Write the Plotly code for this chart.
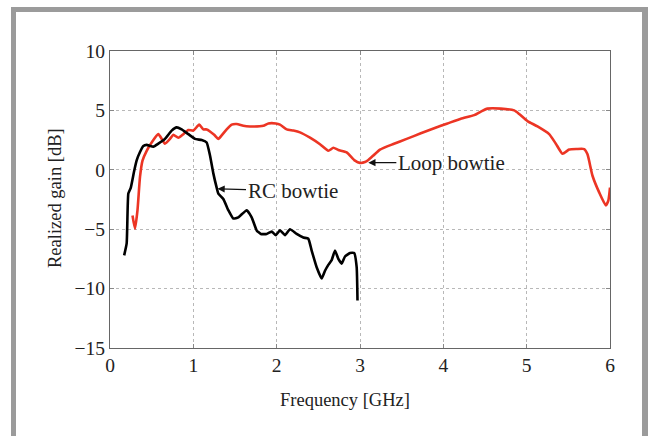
import plotly.graph_objects as go

# Realized gain of the two bowtie antennas versus frequency
freq_rc = [0.17, 0.20, 0.22, 0.25, 0.29, 0.32, 0.36, 0.40, 0.44, 0.52, 0.58, 0.66,
           0.74, 0.80, 0.86, 0.94, 1.02, 1.10, 1.16, 1.20, 1.24, 1.28, 1.30, 1.36,
           1.42, 1.48, 1.54, 1.64, 1.70, 1.76, 1.81, 1.88, 1.94, 1.99, 2.04, 2.10,
           2.16, 2.24, 2.32, 2.38, 2.42, 2.48, 2.54, 2.58, 2.62, 2.66, 2.70, 2.74,
           2.78, 2.82, 2.88, 2.93, 2.96, 2.97]
gain_rc = [-7.2, -6.2, -2.0, -1.5, -0.1, 0.8, 1.5, 2.0, 2.1, 1.95, 2.2, 2.6,
           3.3, 3.57, 3.4, 3.0, 2.6, 2.5, 2.3, 1.2, -0.3, -1.5, -2.0, -2.45,
           -3.4, -4.1, -4.0, -3.4, -4.0, -5.1, -5.4, -5.4, -5.2, -5.5, -5.1, -5.5,
           -5.0, -5.4, -5.7, -5.8, -6.8, -8.2, -9.15, -8.5, -8.0, -7.6, -6.8, -7.5,
           -7.9, -7.3, -7.0, -7.0, -8.2, -11.0]

freq_loop = [0.27, 0.30, 0.33, 0.36, 0.39, 0.44, 0.50, 0.58, 0.66, 0.72, 0.76, 0.82,
             0.88, 0.94, 1.00, 1.07, 1.12, 1.16, 1.25, 1.30, 1.34, 1.40, 1.46, 1.52,
             1.60, 1.68, 1.84, 1.90, 1.99, 2.04, 2.12, 2.20, 2.28, 2.40, 2.52, 2.62,
             2.68, 2.74, 2.84, 2.94, 3.00, 3.06, 3.10, 3.16, 3.24, 3.40, 3.56, 3.73,
             3.89, 4.05, 4.21, 4.37, 4.45, 4.53, 4.69, 4.85, 4.91, 5.01, 5.13, 5.27,
             5.35, 5.43, 5.51, 5.60, 5.69, 5.73, 5.79, 5.87, 5.95, 5.98, 6.00]
gain_loop = [-3.85, -4.96, -3.4, -0.6, 0.77, 1.6, 2.3, 3.0, 2.2, 2.6, 2.95, 2.7,
             3.0, 3.35, 3.3, 3.8, 3.4, 3.4, 2.95, 2.6, 2.9, 3.4, 3.8, 3.85,
             3.7, 3.65, 3.7, 3.9, 3.9, 3.8, 3.4, 3.3, 3.15, 2.7, 2.15, 1.6,
             1.85, 1.67, 1.47, 0.77, 0.58, 0.65, 0.83, 1.2, 1.7, 2.17, 2.6, 3.07,
             3.5, 3.9, 4.3, 4.6, 4.9, 5.15, 5.15, 5.0, 4.7, 4.1, 3.65, 3.0,
             2.2, 1.35, 1.7, 1.75, 1.75, 1.3, -0.5, -1.9, -3.0, -2.6, -1.5]

x_ticks = [0, 1, 2, 3, 4, 5, 6]
y_ticks = [-15, -10, -5, 0, 5, 10]

FONT = "Liberation Serif, Times New Roman, serif"
W, H = 648, 436
L, R, T, B = 110, 38, 51, 88


def px_x(p):
    return (p - L) / (W - L - R)


def px_y(p):
    return (H - B - p) / (H - T - B)


fig = go.Figure()
fig.add_trace(go.Scatter(x=freq_loop, y=gain_loop, mode="lines",
                         line=dict(color="#ec3524", width=2.6, shape="spline", smoothing=0.5),
                         name="Loop bowtie"))
fig.add_trace(go.Scatter(x=freq_rc, y=gain_rc, mode="lines",
                         line=dict(color="#000000", width=2.6, shape="spline", smoothing=0.4),
                         name="RC bowtie"))

# callouts
fig.add_annotation(x=1.29, y=-1.6, text="RC bowtie", showarrow=True,
                   ax=75, ay=2, arrowhead=2, arrowsize=1.2, arrowwidth=1.2,
                   arrowcolor="#111", font=dict(family=FONT, size=21, color="#222"))
fig.add_annotation(x=3.10, y=0.6, text="Loop bowtie", showarrow=True,
                   ax=83, ay=0, arrowhead=2, arrowsize=1.2, arrowwidth=1.2,
                   arrowcolor="#111", font=dict(family=FONT, size=21, color="#222"))

# axis titles
fig.add_annotation(xref="paper", yref="paper", x=px_x(345), y=px_y(400),
                   xanchor="center", yanchor="middle",
                   text="Frequency [GHz]", showarrow=False,
                   font=dict(family=FONT, size=18.5, color="#222"))
fig.add_annotation(xref="paper", yref="paper", x=px_x(55), y=px_y(198),
                   xanchor="center", yanchor="middle",
                   text="Realized gain [dB]", showarrow=False, textangle=-90,
                   font=dict(family=FONT, size=18.5, color="#222"))

# grey page frame
frame = "#9b9b9b"
for x0, y0, x1, y1 in [(11, 7, 16, 440), (11, 7, 648, 12), (642, 7, 648, 440)]:
    fig.add_shape(type="rect", xref="paper", yref="paper",
                  x0=px_x(x0), x1=px_x(x1), y0=px_y(y0), y1=px_y(y1),
                  fillcolor=frame, line=dict(width=0), layer="below")

axis_common = dict(
    showgrid=True, gridcolor="#b8b8b8", griddash="dot", gridwidth=1,
    showline=True, linecolor="#666666", linewidth=1, mirror="ticks",
    ticks="inside", ticklen=4, tickcolor="#888888",
    zeroline=False, tickfont=dict(family=FONT, size=19.5, color="#222"),
)

fig.update_layout(
    width=W, height=H,
    margin=dict(l=L, r=R, t=T, b=B),
    paper_bgcolor="white", plot_bgcolor="white",
    showlegend=False,
    xaxis=dict(range=[0, 6], tickvals=x_ticks, **axis_common),
    yaxis=dict(range=[-15, 10], tickvals=y_ticks, **axis_common),
)

fig.write_html("out.html")
